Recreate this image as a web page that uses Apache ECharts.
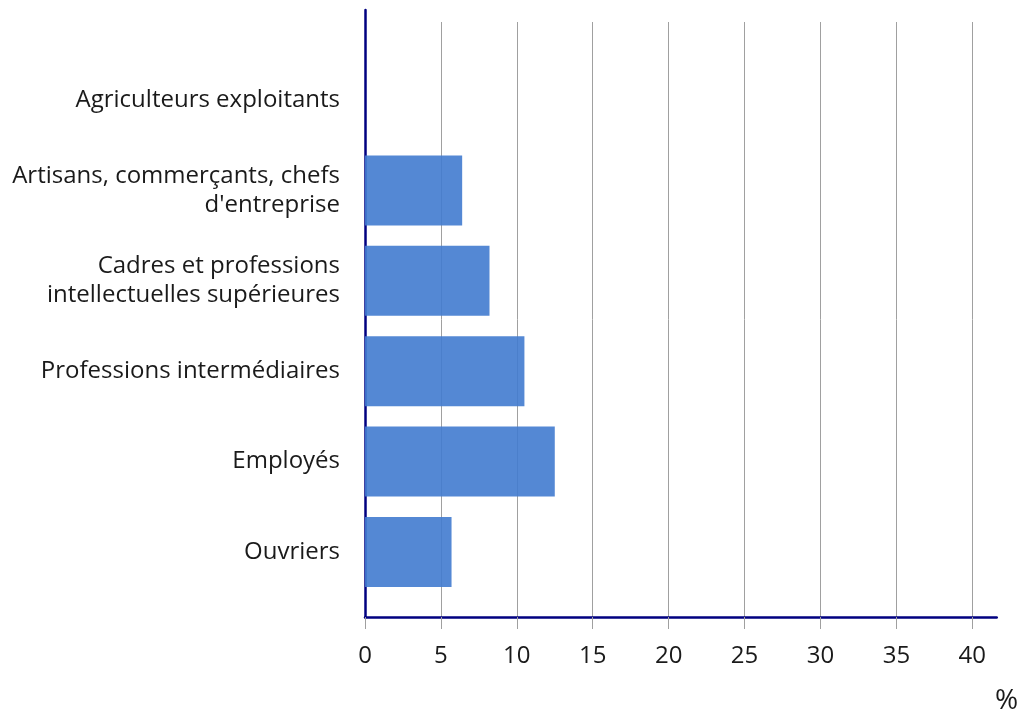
<!DOCTYPE html>
<html>
<head>
<meta charset="utf-8">
<script src="https://cdn.jsdelivr.net/npm/echarts@6/dist/echarts.min.js"></script>
<style>html,body{margin:0;padding:0;background:#fff}#c{width:1024px;height:718px}</style>
</head>
<body>
<div id="c"></div>
<script>
const categories = [
  "Agriculteurs exploitants",
  "Artisans, commerçants, chefs\nd'entreprise",
  "Cadres et professions\nintellectuelles supérieures",
  "Professions intermédiaires",
  "Employés",
  "Ouvriers"
];
const values = [0, 6.4, 8.2, 10.5, 12.5, 5.7];
const xTicks = [0, 5, 10, 15, 20, 25, 30, 35, 40];
const unitLabel = "%";

const FONT = "'Open Sans', 'Noto Sans', sans-serif";
const chart = echarts.init(document.getElementById('c'), null, {renderer: 'canvas'});
chart.setOption({
  animation: false,
  backgroundColor: '#ffffff',
  title: {
    text: unitLabel, left: 995, top: 687, padding: 0,
    textStyle: {fontFamily: FONT, fontSize: 28, fontWeight: 'normal', color: '#1a1a1a'}
  },
  grid: [
    {left: 365, right: 51.7, top: 22, bottom: 101},   // split lines, ticks, labels
    {left: 365, right: 27.3, top: 10, bottom: 101},   // axis lines
    {left: 365, right: 51.7, top: 54.8, bottom: 120.8} // bars
  ],
  xAxis: [
    {
      gridIndex: 0, type: 'value', min: xTicks[0], max: xTicks[xTicks.length - 1], interval: 5,
      axisLine: {show: false},
      axisTick: {show: true, length: 12, lineStyle: {color: '#a0a0a0', width: 1}},
      splitLine: {show: true, lineStyle: {color: '#a0a0a0', width: 1}},
      axisLabel: {margin: 27, fontFamily: FONT, fontSize: 24, color: '#1a1a1a'}
    },
    {
      gridIndex: 1, type: 'value', min: 0, max: 1,
      axisLine: {show: true, lineStyle: {color: '#000080', width: 2.5}},
      axisTick: {show: false}, splitLine: {show: false}, axisLabel: {show: false}
    },
    {
      gridIndex: 2, type: 'value', min: xTicks[0], max: xTicks[xTicks.length - 1],
      show: false
    }
  ],
  yAxis: [
    {gridIndex: 0, type: 'value', show: false},
    {
      gridIndex: 1, type: 'value', min: 0, max: 1,
      axisLine: {show: true, lineStyle: {color: '#000080', width: 2.5}},
      axisTick: {show: false}, splitLine: {show: false}, axisLabel: {show: false}
    },
    {
      gridIndex: 2, type: 'category', data: categories, inverse: true,
      axisLine: {show: false}, axisTick: {show: false},
      axisLabel: {margin: 25, fontFamily: FONT, fontSize: 24, lineHeight: 29, color: '#1a1a1a', align: 'right'}
    }
  ],
  series: [{
    type: 'bar',
    xAxisIndex: 2, yAxisIndex: 2,
    data: values,
    barCategoryGap: '22.6%',
    itemStyle: {color: 'rgb(65,123,207)', opacity: 0.9},
    z: 5
  }]
});
</script>
</body>
</html>
